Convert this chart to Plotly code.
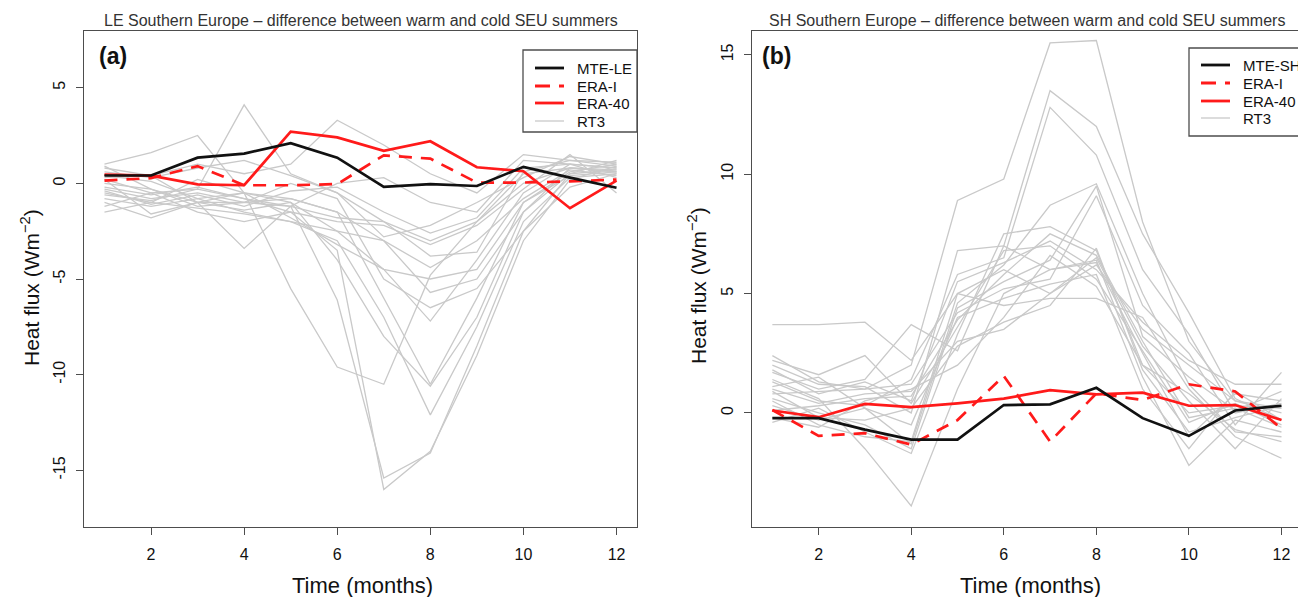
import plotly.graph_objects as go

W, H = 1298, 597
FONT = "Liberation Sans, Arial, Helvetica, sans-serif"

months = list(range(1, 13))

# ---- Panel (a): latent heat flux (LE), warm minus cold summers ----
le_mte = [0.41, 0.41, 1.34, 1.55, 2.1, 1.34, -0.18, -0.04, -0.14, 0.86, 0.3, -0.23]
le_era_i = [0.14, 0.27, 0.9, -0.1, -0.1, -0.04, 1.46, 1.29, 0.04, 0.04, 0.1, 0.2]
le_era_40 = [0.45, 0.4, -0.05, -0.1, 2.7, 2.4, 1.7, 2.2, 0.84, 0.63, -1.3, 0.14]
le_rt3 = [
    [-0.3, -0.8, -0.5, -1.0, -1.2, -6.1, -15.4, -14.1, -8.5, -2.5, 0.5, 0.7],
    [0.2, -0.5, -0.3, -0.8, -1.5, -3.5, -16.0, -14.0, -9.0, -3.0, 0.2, 0.9],
    [-0.5, -1.0, 0.2, -0.5, -5.5, -9.6, -10.5, -4.8, -2.0, 0.5, 0.8, 0.6],
    [0.0, -0.3, -1.2, -1.0, -0.8, -1.5, -6.0, -10.5, -6.0, -1.0, 0.6, 1.0],
    [-0.8, -1.2, -0.8, -1.5, -2.0, -3.0, -7.0, -12.1, -7.5, -2.0, 0.3, 0.5],
    [0.4, 0.1, -0.8, -0.5, -1.0, -2.5, -4.5, -7.2, -4.0, -0.5, 1.0, 0.8],
    [1.0, 1.6, 2.5, -0.5, -0.8, -1.5, -3.0, -5.7, -5.0, -1.5, 0.5, 1.2],
    [-0.6, -0.9, -0.3, 4.1, 0.5, -0.5, -2.0, -3.0, -2.0, 0.0, 0.8, 0.6],
    [0.3, 0.4, -1.0, -3.4, -1.2, 0.0, 0.3, -1.0, -1.5, 1.2, 1.0, 0.8],
    [0.8, 0.4, 1.0, 0.5, 1.0, 3.3, 2.0, 0.5, -0.5, 1.5, 1.2, 0.9],
    [-1.5, -1.0, -1.3, -1.6, -2.0, -2.5, -3.0, -4.4, -3.0, -0.8, 0.7, 0.4],
    [-1.0, -1.8, -1.0, -0.5, -1.8, -3.2, -4.5, -5.0, -4.5, -1.0, 0.4, 0.6],
    [0.6, 0.3, 0.8, 1.2, 0.4, -0.5, -2.8, -2.2, -1.0, 0.3, 1.4, 1.0],
    [-0.2, -0.6, -0.2, -0.8, -1.2, -1.8, -2.0, -3.8, -3.6, 0.6, 1.2, 1.1],
    [0.9, -0.3, -1.0, -1.0, 0.0, -0.8, -5.0, -6.5, -5.5, -2.5, -0.2, 0.5],
    [-0.4, -1.1, -0.6, -1.2, -0.4, -0.2, -1.5, -2.6, -1.8, 0.8, 1.0, 0.3],
    [0.2, -1.6, -1.0, -1.4, -1.0, -4.0, -8.0, -10.6, -7.0, -1.5, 0.8, 0.7],
    [-1.2, -0.5, -1.5, -2.0, -1.5, -2.0, -2.2, -3.2, -2.2, -0.3, 1.5, -0.5],
]

# ---- Panel (b): sensible heat flux (SH), warm minus cold summers ----
sh_mte = [-0.22, -0.22, -0.7, -1.12, -1.12, 0.33, 0.36, 1.05, -0.22, -0.96, 0.1, 0.3]
sh_era_i = [0.12, -0.96, -0.85, -1.33, -0.3, 1.55, -1.2, 0.82, 0.54, 1.2, 0.9, -0.65]
sh_era_40 = [0.1, -0.18, 0.38, 0.24, 0.4, 0.6, 0.95, 0.78, 0.85, 0.3, 0.33, -0.3]
sh_rt3 = [
    [3.7, 3.7, 3.8, 2.2, 5.0, 6.0, 5.0, 6.2, 3.5, 2.0, 0.5, 0.2],
    [2.4, 1.3, 1.0, 2.0, 8.9, 9.8, 15.5, 15.6, 8.0, 3.0, 0.5, 0.0],
    [1.7, 1.0, 1.4, 3.7, 2.6, 7.0, 13.5, 12.0, 7.5, 4.2, 0.6, -0.3],
    [1.3, 0.5, 0.3, 1.4, 5.8, 6.5, 12.8, 10.8, 6.0, 3.3, 0.0, 0.4],
    [1.1, 1.5, 0.2, -1.3, 4.6, 6.2, 8.7, 9.6, 5.0, 1.2, -0.8, -1.0],
    [0.8, 0.9, 1.0, 1.2, 4.2, 5.2, 5.6, 9.1, 4.5, 2.5, -0.5, 1.7],
    [0.1, 0.3, 0.6, 0.7, 3.9, 5.8, 7.5, 6.6, 3.0, -0.2, 0.2, -0.6],
    [-0.4, 0.2, -0.8, -1.7, 3.3, 7.5, 7.8, 6.8, 2.0, 0.0, 0.3, 0.2],
    [1.4, 0.6, -1.5, -3.9, 1.0, 5.0, 6.0, 6.4, 1.5, -2.2, -0.3, -0.8],
    [2.0, 1.2, 1.1, 0.0, 6.8, 7.0, 6.0, 6.3, 2.5, -1.0, 0.8, 0.5],
    [0.5, -0.5, -1.0, -1.2, 5.0, 4.5, 4.8, 4.8, 4.0, 1.0, -1.0, -1.9],
    [1.0, 0.4, 0.8, 0.9, 3.0, 3.5, 5.0, 6.5, 2.8, 0.5, -1.5, 0.6],
    [0.3, -0.3, 0.2, -0.5, 4.0, 4.8, 5.4, 5.8, 1.0, -1.5, 0.9, -0.3],
    [1.8, 0.8, 1.3, 0.5, 5.5, 6.3, 7.2, 6.0, 3.8, 2.2, 1.2, 1.2],
    [-0.2, -0.6, 0.5, 1.0, 2.0, 4.0, 6.6, 5.3, 2.0, 0.8, -0.7, -1.2],
    [0.6, 0.0, -0.5, -1.5, 4.4, 5.5, 6.4, 9.5, 3.2, 1.5, 0.1, 0.9],
    [2.2, 1.6, 2.4, 0.4, 3.6, 6.8, 7.0, 5.6, 2.6, -0.4, 0.4, -0.5],
    [0.9, -0.2, -0.3, 0.2, 2.8, 3.8, 4.5, 6.9, 1.8, -0.8, -0.2, 0.3],
]

x_ticks = [2, 4, 6, 8, 10, 12]
y_ticks_a = [-15, -10, -5, 0, 5]
y_ticks_b = [0, 5, 10, 15]

GRAY = "#c9c9c9"
RED = "#ff1a1a"
DASH = "13px,9px"


def px(x):
    return x / W


def py(y):
    return 1 - y / H


fig = go.Figure()


def add_panel(xa, ya, mte, era_i, era_40, rt3):
    for row in rt3:
        fig.add_trace(go.Scatter(x=months, y=row, mode="lines", xaxis=xa, yaxis=ya,
                                 line=dict(color=GRAY, width=1.3), showlegend=False,
                                 hoverinfo="skip"))
    fig.add_trace(go.Scatter(x=months, y=era_40, mode="lines", xaxis=xa, yaxis=ya,
                             line=dict(color=RED, width=2.7), showlegend=False))
    fig.add_trace(go.Scatter(x=months, y=era_i, mode="lines", xaxis=xa, yaxis=ya,
                             line=dict(color=RED, width=2.7, dash=DASH), showlegend=False))
    fig.add_trace(go.Scatter(x=months, y=mte, mode="lines", xaxis=xa, yaxis=ya,
                             line=dict(color="#111111", width=2.7), showlegend=False))


add_panel("x", "y", le_mte, le_era_i, le_era_40, le_rt3)
add_panel("x2", "y2", sh_mte, sh_era_i, sh_era_40, sh_rt3)

AX = "#4d4d4d"
tickfont = dict(family=FONT, size=16, color="#111")
common_x = dict(tickvals=x_ticks, ticks="outside", ticklen=7, tickcolor=AX,
                showline=True, linecolor=AX, linewidth=1.3, showgrid=False,
                zeroline=False, tickfont=tickfont, ticklabelstandoff=6)
common_y = dict(ticks="outside", ticklen=7, tickcolor=AX, showline=True,
                linecolor=AX, linewidth=1.3, showgrid=False, zeroline=False,
                tickfont=tickfont, tickangle=-90, ticklabelstandoff=4)

fig.update_layout(
    width=W, height=H, margin=dict(l=0, r=0, t=0, b=0),
    paper_bgcolor="white", plot_bgcolor="white",
    xaxis=dict(domain=[px(84), px(637)], range=[0.56, 12.44], mirror=True,
               anchor="y", **common_x),
    yaxis=dict(domain=[py(527), py(31)], range=[-17.96, 7.96], mirror=True,
               tickvals=y_ticks_a, ticktext=[str(v) for v in y_ticks_a],
               anchor="x", **common_y),
    xaxis2=dict(domain=[px(752), 1.0], range=[0.56, 12.357], mirror=True,
                anchor="y2", **common_x),
    yaxis2=dict(domain=[py(527), py(31)], range=[-4.78, 16.0],
                tickvals=y_ticks_b, ticktext=[str(v) for v in y_ticks_b],
                anchor="x2", **common_y),
)

ann = []
shapes = []

# panel titles
ann.append(dict(x=px(360.5), y=py(20), text="LE Southern Europe \u2013 difference between warm and cold SEU summers",
                font=dict(family=FONT, size=16, color="#333")))
ann.append(dict(x=px(1027), y=py(20), text="SH Southern Europe \u2013 difference between warm and cold SEU summers",
                font=dict(family=FONT, size=16, color="#333")))
# panel letters
ann.append(dict(x=px(97), y=py(56), text="<b>(a)</b>", xanchor="left",
                font=dict(family=FONT, size=23, color="#111")))
ann.append(dict(x=px(760), y=py(56), text="<b>(b)</b>", xanchor="left",
                font=dict(family=FONT, size=23, color="#111")))
# axis titles
for cx in (362, 1030):
    ann.append(dict(x=px(cx), y=py(585), text="Time (months)",
                    font=dict(family=FONT, size=22, color="#111")))
for cx, cy in ((30, 288), (697, 286)):
    ann.append(dict(x=px(cx), y=py(cy), text="Heat flux (Wm<sup>\u22122</sup>)", textangle=-90,
                    font=dict(family=FONT, size=21, color="#111")))


# legends
def legend(x0, x1, y0, y1, sx0, sx1, tx, ys, labels):
    shapes.append(dict(type="rect", xref="paper", yref="paper", x0=px(x0), x1=px(x1),
                       y0=py(y1), y1=py(y0), line=dict(color=AX, width=1.3),
                       fillcolor="white", layer="above"))
    styles = [dict(color="#111111", width=2.8), dict(color=RED, width=2.8, dash="15px,9px"),
              dict(color=RED, width=2.8), dict(color=GRAY, width=1.3)]
    for yy, st, lab in zip(ys, styles, labels):
        shapes.append(dict(type="line", xref="paper", yref="paper", x0=px(sx0), x1=px(sx1),
                           y0=py(yy), y1=py(yy), line=st, layer="above"))
        ann.append(dict(x=px(tx), y=py(yy), text=lab, xanchor="left",
                        font=dict(family=FONT, size=15, color="#111")))


legend(523, 637, 50, 132, 535, 564, 575, [68, 86, 103, 121], ["MTE-LE", "ERA-I", "ERA-40", "RT3"])
legend(1189, 1330, 48, 136, 1201, 1230, 1241, [65, 83, 101, 118], ["MTE-SH", "ERA-I", "ERA-40", "RT3"])

for a in ann:
    a.setdefault("xref", "paper")
    a.setdefault("yref", "paper")
    a.setdefault("xanchor", "center")
    a.setdefault("yanchor", "middle")
    a.setdefault("showarrow", False)
fig.update_layout(annotations=ann, shapes=shapes)

fig.write_html("out.html")
